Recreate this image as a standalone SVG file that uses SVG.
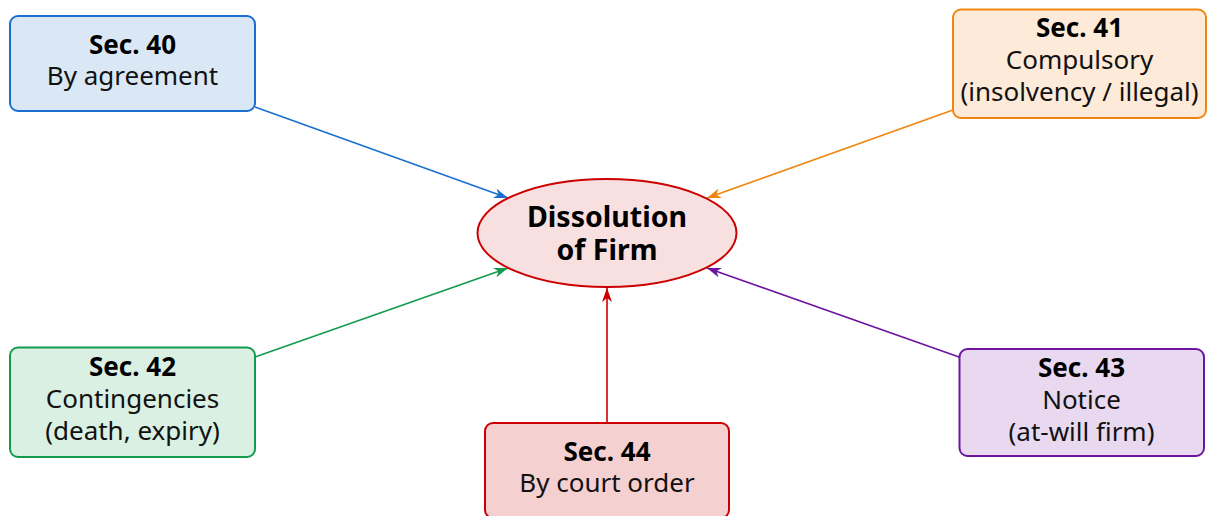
<svg xmlns="http://www.w3.org/2000/svg" width="1207" height="516" viewBox="0 0 1207 516">
<style>
text{font-family:"Noto Sans","Open Sans","DejaVu Sans",sans-serif;font-size:26px;fill:#111;text-anchor:middle}
.b{font-weight:bold;fill:#000}
.big{font-size:28.5px;font-weight:bold;fill:#000}
.box{stroke-width:2}
.c{fill:none;stroke-width:1.6}
</style>
<defs>
<marker id="mb" viewBox="0 0 14 10" refX="14" refY="5" markerWidth="14" markerHeight="10" markerUnits="userSpaceOnUse" orient="auto"><path d="M0,0 L14,5 L0,10 L4,5 z" fill="#1a6fcf"/></marker>
<marker id="mo" viewBox="0 0 14 10" refX="14" refY="5" markerWidth="14" markerHeight="10" markerUnits="userSpaceOnUse" orient="auto"><path d="M0,0 L14,5 L0,10 L4,5 z" fill="#f0850f"/></marker>
<marker id="mg" viewBox="0 0 14 10" refX="14" refY="5" markerWidth="14" markerHeight="10" markerUnits="userSpaceOnUse" orient="auto"><path d="M0,0 L14,5 L0,10 L4,5 z" fill="#129a4d"/></marker>
<marker id="mp" viewBox="0 0 14 10" refX="14" refY="5" markerWidth="14" markerHeight="10" markerUnits="userSpaceOnUse" orient="auto"><path d="M0,0 L14,5 L0,10 L4,5 z" fill="#6e15a0"/></marker>
<marker id="mr" viewBox="0 0 14 10" refX="14" refY="5" markerWidth="14" markerHeight="10" markerUnits="userSpaceOnUse" orient="auto"><path d="M0,0 L14,5 L0,10 L4,5 z" fill="#cc0000"/></marker>
</defs>
<g id="connectors">
<line class="c" x1="255" y1="107" x2="508" y2="198" stroke="#1a6fcf" marker-end="url(#mb)"/>
<line class="c" x1="953" y1="110" x2="707" y2="198" stroke="#f0850f" marker-end="url(#mo)"/>
<line class="c" x1="255" y1="357" x2="508" y2="268" stroke="#129a4d" marker-end="url(#mg)"/>
<line class="c" x1="959" y1="357" x2="707" y2="268" stroke="#6e15a0" marker-end="url(#mp)"/>
<line class="c" x1="607" y1="423" x2="607" y2="288" stroke="#cc0000" marker-end="url(#mr)"/>
</g>
<g id="center">
<ellipse cx="607" cy="233" rx="129.5" ry="54" fill="#f8dfe0" stroke="#cc0000" stroke-width="2"/>
<text class="big"><tspan x="607" y="227">Dissolution</tspan><tspan x="607" y="260">of Firm</tspan></text>
</g>
<g id="sec40">
<rect class="box" x="10" y="16" width="245" height="95" rx="8" fill="#dae8f6" stroke="#1a6fcf"/>
<text><tspan class="b" x="132.5" y="54">Sec. 40</tspan><tspan x="132.5" y="85">By agreement</tspan></text>
</g>
<g id="sec41">
<rect class="box" x="953" y="9.5" width="253" height="108.5" rx="8" fill="#fdead8" stroke="#f0850f"/>
<text><tspan class="b" x="1079.5" y="37">Sec. 41</tspan><tspan x="1079.5" y="69">Compulsory</tspan><tspan x="1079.5" y="101">(insolvency / illegal)</tspan></text>
</g>
<g id="sec42">
<rect class="box" x="10" y="347.5" width="245" height="109.5" rx="8" fill="#d9f0e3" stroke="#129a4d"/>
<text><tspan class="b" x="132.5" y="376">Sec. 42</tspan><tspan x="132.5" y="408">Contingencies</tspan><tspan x="132.5" y="440">(death, expiry)</tspan></text>
</g>
<g id="sec43">
<rect class="box" x="959.5" y="349" width="244.5" height="107" rx="8" fill="#e8d8f0" stroke="#6e15a0"/>
<text><tspan class="b" x="1081.5" y="377">Sec. 43</tspan><tspan x="1081.5" y="409">Notice</tspan><tspan x="1081.5" y="441">(at-will firm)</tspan></text>
</g>
<g id="sec44">
<rect class="box" x="485" y="423" width="244" height="95" rx="8" fill="#f5d0d1" stroke="#cc0000"/>
<text><tspan class="b" x="607" y="461">Sec. 44</tspan><tspan x="607" y="492">By court order</tspan></text>
</g>
</svg>
